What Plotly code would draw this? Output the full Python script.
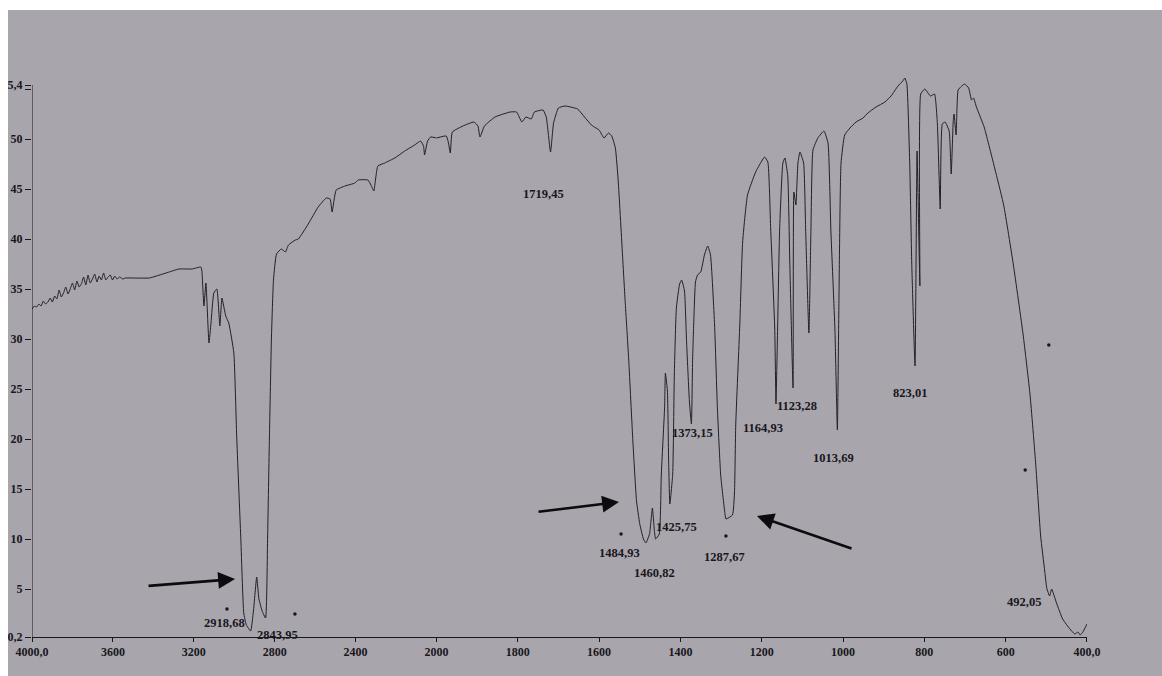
import plotly.graph_objects as go

# ---------------- data ----------------
wavenumber = [
    4000, 3988, 3977, 3966, 3955, 3944, 3933, 3921, 3910, 3899, 3888, 3877, 3866, 3855,
    3844, 3833, 3822, 3811, 3800, 3789, 3778, 3767, 3756, 3745, 3734, 3723, 3712, 3701,
    3690, 3679, 3668, 3657, 3646, 3635, 3624, 3613, 3602, 3591, 3580, 3566, 3552, 3538,
    3500, 3420, 3337, 3273, 3209, 3165, 3160, 3150, 3140, 3125, 3115, 3101, 3086,
    3071, 3061, 3042, 3027, 3002, 2988, 2968, 2953, 2940, 2919, 2905, 2889, 2878, 2862,
    2845, 2835, 2826, 2816, 2806, 2791, 2767, 2747, 2732, 2698, 2683, 2634, 2585, 2545,
    2526, 2516, 2496, 2452, 2403, 2388, 2339, 2324, 2310, 2290, 2256, 2206, 2157, 2108,
    2079, 2064, 2059, 2044, 2029, 2000,
    1976, 1971, 1966, 1961, 1935, 1908, 1898, 1893, 1882, 1856, 1819, 1803, 1790, 1780,
    1767, 1759, 1738, 1730, 1719.5, 1712, 1700, 1684, 1653, 1636, 1619, 1612, 1600, 1588,
    1577, 1569, 1560, 1553, 1543, 1536, 1527, 1517, 1508, 1500, 1491, 1485, 1476, 1469,
    1464, 1461, 1452, 1447, 1439, 1437, 1432, 1429, 1426, 1419, 1415, 1410, 1402, 1397,
    1390, 1385, 1378, 1373, 1370, 1368, 1363, 1358, 1350, 1341, 1333, 1326, 1316, 1309,
    1301, 1291, 1288, 1272, 1267, 1264, 1254, 1247, 1235, 1215, 1193, 1185, 1178, 1168,
    1165, 1161, 1156, 1148, 1143, 1136, 1131, 1123, 1121, 1116, 1111, 1106, 1097, 1092,
    1084, 1079, 1074, 1062, 1047, 1037, 1030, 1020, 1014, 1010, 1005, 996, 983, 968,
    951, 939, 919, 897, 882, 865, 853, 848, 843, 836, 831, 823, 818, 811, 809, 799,
    785, 775, 768, 761, 756, 749, 739, 734, 729, 727, 722, 717, 708, 701, 691, 684,
    679, 672, 653, 629, 605, 581, 557, 540, 526, 514, 504, 499, 492, 487, 475, 460,
    442, 430, 422, 417, 410, 405, 400,
]
transmittance = [
    33.0, 33.3, 33.2, 33.5, 33.3, 33.8, 33.5, 33.7, 34.1, 33.7, 34.3, 34.0, 34.9, 34.2,
    34.6, 35.2, 34.5, 35.0, 35.6, 34.9, 35.8, 35.2, 35.5, 36.2, 35.4, 36.4, 35.6, 36.0,
    36.5, 35.7, 36.3, 35.9, 36.6, 35.9, 36.2, 36.4, 35.9, 36.3, 36.0, 36.2, 36.0, 36.1,
    36.1, 36.1, 36.6, 37.0, 37.0, 37.2, 36.8, 33.3, 35.6, 29.6, 31.6, 34.6, 35.0,
    31.3, 34.1, 32.3, 31.6, 28.6, 20.3, 10.3, 2.6, 1.4, 0.8, 2.8, 6.2, 4.0, 2.8,
    2.1, 10.2, 20.2, 30.2, 35.9, 38.5, 39.0, 38.7, 39.4, 39.9, 40.0, 41.5, 43.2, 44.1,
    44.0, 42.7, 44.9, 45.3, 45.6, 45.9, 45.9, 45.4, 44.8, 47.3, 47.6, 48.1, 48.8, 49.4,
    49.8, 49.3, 48.4, 49.8, 50.2, 50.1,
    50.3, 49.7, 48.6, 50.7, 51.3, 51.7, 51.3, 50.2, 51.3, 52.2, 52.7, 52.7, 51.7, 52.2,
    52.0, 52.7, 52.9, 52.2, 48.7, 51.6, 53.1, 53.3, 53.0, 52.2, 51.4, 51.2, 50.9, 50.1,
    50.6, 50.3, 49.1, 45.8, 38.8, 33.8, 27.8, 19.8, 13.8, 11.5, 10.0, 9.6, 10.5, 13.1,
    10.8, 10.0, 10.5, 16.5, 23.1, 26.6, 24.8, 17.8, 13.5, 16.5, 26.5, 33.1, 35.5, 35.9,
    34.8, 29.8, 23.8, 21.5, 28.0, 30.7, 35.7, 36.4, 36.7, 38.4, 39.3, 38.4, 31.4, 23.0,
    16.4, 12.7, 12.0, 12.4, 14.7, 21.4, 31.4, 39.7, 44.4, 46.7, 48.2, 47.7, 41.0, 31.0,
    23.5, 31.0, 41.0, 47.6, 48.1, 46.3, 37.6, 25.1, 44.7, 43.4, 47.6, 48.7, 47.6, 40.9,
    30.6, 40.9, 48.9, 50.1, 50.8, 49.6, 40.9, 30.9, 20.9, 34.3, 47.6, 50.4, 51.1, 51.7,
    52.1, 52.6, 53.2, 53.7, 54.3, 55.3, 55.8, 56.1, 55.5, 47.5, 37.5, 27.3, 48.8, 35.3, 54.5, 55.0,
    54.3, 54.5, 51.5, 43.0, 51.5, 51.7, 50.8, 46.5, 51.8, 52.5, 50.4, 54.9, 55.3, 55.5, 55.1, 53.9,
    54.1, 53.2, 51.2, 47.4, 43.4, 37.4, 30.4, 24.4, 17.4, 10.3, 6.8, 5.1, 4.3, 5.0, 3.6, 2.0,
    1.0, 0.5, 0.7, 0.4, 0.7, 1.1, 1.5,
]

x_ticks_high = [4000, 3600, 3200, 2800, 2400]
x_ticktext_high = ["4000,0", "3600", "3200", "2800", "2400"]
x_ticks_low = [2000, 1800, 1600, 1400, 1200, 1000, 800, 600, 400]
x_ticktext_low = ["2000", "1800", "1600", "1400", "1200", "1000", "800", "600", "400,0"]
y_ticks = [0.2, 5, 10, 15, 20, 25, 30, 35, 40, 45, 50, 55, 55.4]
y_ticktext = ["0,2", "5", "10", "15", "20", "25", "30", "35", "40", "45", "50", "", "55,4"]

peak_labels = ["2918,68", "2843,95", "1719,45", "1373,15", "1164,93", "1123,28", "1013,69",
               "823,01", "1425,75", "1484,93", "1460,82", "1287,67", "492,05"]
marker_dots_w = [3036, 2700, 1546, 1288, 552, 494]
marker_dots_t = [3.0, 2.5, 10.5, 10.3, 16.9, 29.4]

# ---------------- styling ----------------
PAPER = "#a8a5ac"
INK = "#18171c"
FONT = "Liberation Serif"
SPLIT = 0.3834

fig = go.Figure()

wa = [w for w in wavenumber if w >= 2000]
ta = [t for w, t in zip(wavenumber, transmittance) if w >= 2000]
wb = [w for w in wavenumber if w <= 2000]
tb = [t for w, t in zip(wavenumber, transmittance) if w <= 2000]

line_style = dict(color="#222126", width=1, shape="spline", smoothing=0.4)
fig.add_trace(go.Scatter(x=wa, y=ta, mode="lines", xaxis="x", yaxis="y",
                         line=line_style, hoverinfo="skip", showlegend=False))
fig.add_trace(go.Scatter(x=wb, y=tb, mode="lines", xaxis="x2", yaxis="y",
                         line=line_style, hoverinfo="skip", showlegend=False))

da = [(w, t) for w, t in zip(marker_dots_w, marker_dots_t) if w >= 2000]
db = [(w, t) for w, t in zip(marker_dots_w, marker_dots_t) if w < 2000]
fig.add_trace(go.Scatter(x=[d[0] for d in da], y=[d[1] for d in da], mode="markers",
                         xaxis="x", yaxis="y", marker=dict(color=INK, size=3.5),
                         cliponaxis=False, hoverinfo="skip", showlegend=False))
fig.add_trace(go.Scatter(x=[d[0] for d in db], y=[d[1] for d in db], mode="markers",
                         xaxis="x2", yaxis="y", marker=dict(color=INK, size=3.5),
                         cliponaxis=False, hoverinfo="skip", showlegend=False))

axis_common = dict(showgrid=False, zeroline=False, showline=True, linecolor=INK, linewidth=1,
                   ticks="outside", ticklen=4, tickwidth=1, tickcolor=INK, automargin=False,
                   tickfont=dict(family=FONT, size=12, color=INK, weight="bold"))

fig.update_layout(
    width=1162, height=676,
    margin=dict(l=32, r=75, t=65, b=39, autoexpand=False),
    paper_bgcolor=PAPER, plot_bgcolor=PAPER,
    xaxis=dict(domain=[0, SPLIT], range=[4000, 2000], tickvals=x_ticks_high,
               ticktext=x_ticktext_high, anchor="y", **axis_common),
    xaxis2=dict(domain=[SPLIT, 1], range=[2000, 400], tickvals=x_ticks_low,
                ticktext=x_ticktext_low, anchor="y", **axis_common),
    yaxis=dict(range=[0.2, 57.4], tickvals=y_ticks, ticktext=y_ticktext, anchor="x",
               showgrid=False, zeroline=False, showline=False, automargin=False,
               ticks="outside", ticklen=6, tickwidth=1, tickcolor=INK,
               tickfont=dict(family=FONT, size=12, color=INK, weight="bold")),
)

# y-axis line (only up to 55,4)
fig.add_shape(type="line", xref="x", yref="y", x0=4000, x1=4000, y0=0.2, y1=55.4,
              line=dict(color=INK, width=1))

# peak labels
label_pos = {
    "2918,68": ("x", 3046, 1.6), "2843,95": ("x", 2784, 0.4),
    "1719,45": ("x2", 1735.6, 44.5), "1373,15": ("x2", 1371.5, 20.6),
    "1164,93": ("x2", 1196.9, 21.1), "1123,28": ("x2", 1113.3, 23.3),
    "1013,69": ("x2", 1022.3, 18.1), "823,01": ("x2", 835.4, 24.6),
    "1425,75": ("x2", 1408.5, 11.2), "1484,93": ("x2", 1548.7, 8.6),
    "1460,82": ("x2", 1465, 6.6), "1287,67": ("x2", 1290.4, 8.2),
    "492,05": ("x2", 555, 3.7),
}
for txt in peak_labels:
    xr, xv, yv = label_pos[txt]
    fig.add_annotation(text=txt, xref=xr, yref="y", x=xv, y=yv, showarrow=False,
                       font=dict(family=FONT, size=12.5, color=INK, weight="bold"))

# hand-drawn arrows
arrows = [("x", 2996, 6.0, -88, 7), ("x2", 1551, 13.7, -82, 10), ("x2", 1211.7, 12.3, 96, 33)]
for xr, xv, yv, ax, ay in arrows:
    fig.add_annotation(text="", xref=xr, yref="y", x=xv, y=yv, ax=ax, ay=ay,
                       showarrow=True, arrowhead=2, arrowsize=1.3, arrowwidth=2.6,
                       arrowcolor="#0c0c0e")

# axis unit
fig.add_annotation(text="cm-1", xref="x2", yref="y", x=1718, y=-2.8, textangle=90,
                   showarrow=False, font=dict(family=FONT, size=12.5, color=INK, weight="bold"))

# white scan borders (top and left)
fig.add_shape(type="rect", xref="paper", yref="paper", x0=-0.05, x1=1.1, y0=1.0962, y1=1.2,
              fillcolor="white", line=dict(width=0), layer="above")
fig.add_shape(type="rect", xref="paper", yref="paper", x0=-0.05, x1=-0.02275, y0=-0.1, y1=1.2,
              fillcolor="white", line=dict(width=0), layer="above")

fig.write_html("out.html")
